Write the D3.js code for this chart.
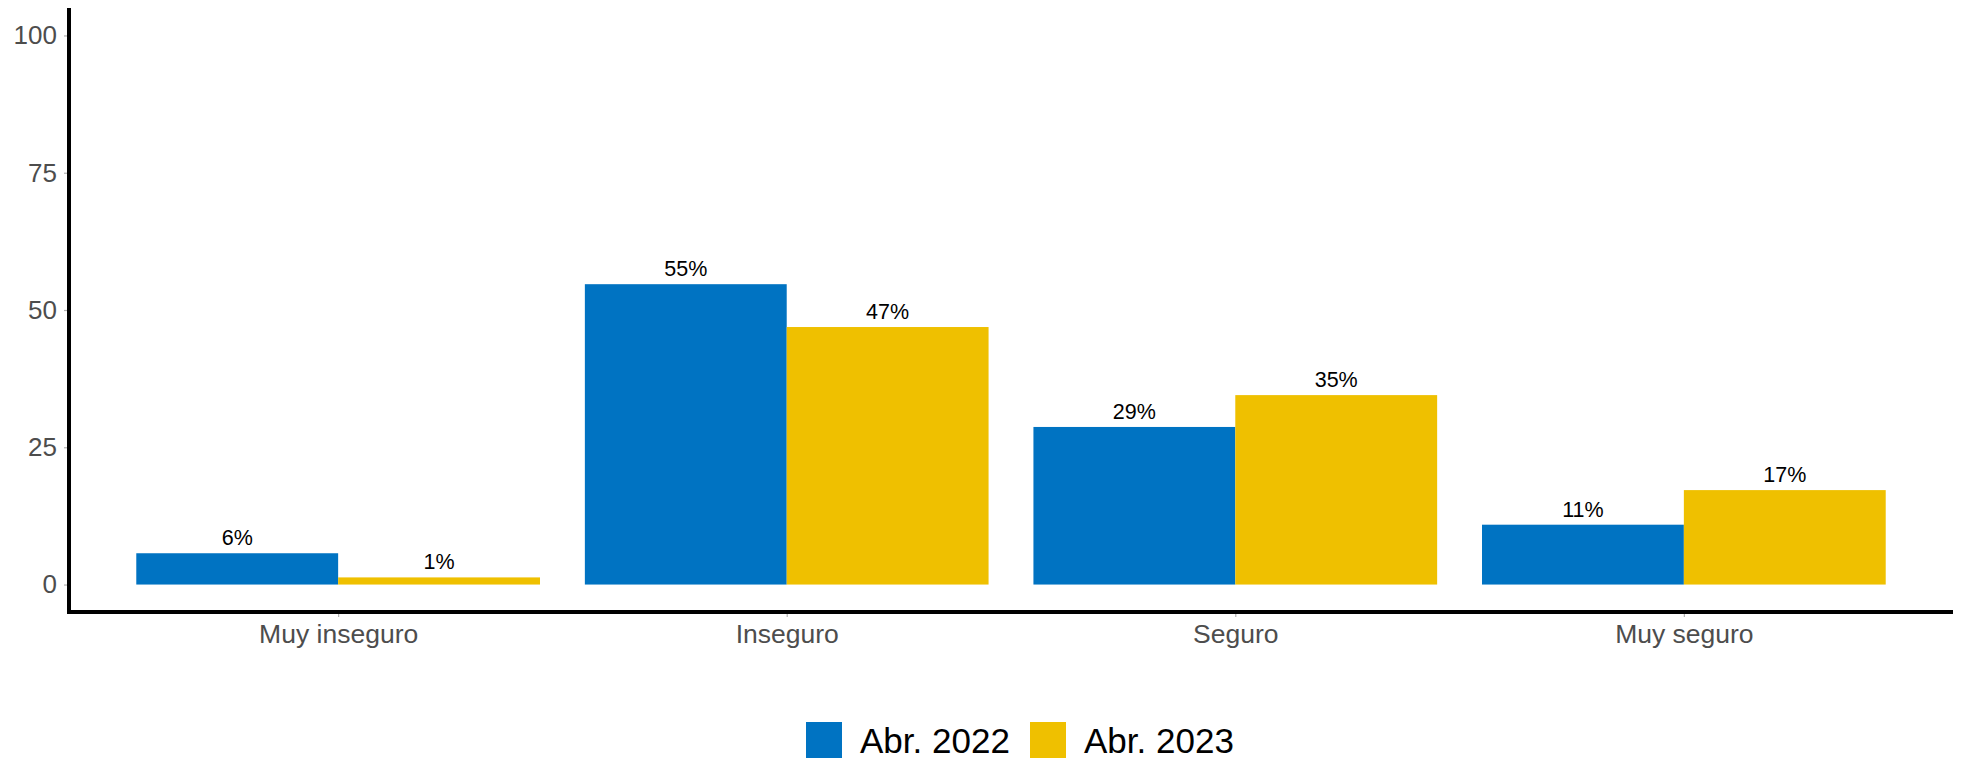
<!DOCTYPE html>
<html><head><meta charset="utf-8">
<script src="https://cdn.jsdelivr.net/npm/d3@7"></script>
<style>html,body{margin:0;padding:0;background:#fff}svg{display:block}</style>
</head><body>
<svg id="chart" width="1962" height="760"></svg>
<script>
const categories = ["Muy inseguro", "Inseguro", "Seguro", "Muy seguro"];
const seriesNames = ["Abr. 2022", "Abr. 2023"];
const values2022 = [5.7, 54.7, 28.7, 10.9];
const values2023 = [1.3, 46.9, 34.5, 17.2];
const labels2022 = ["6%", "55%", "29%", "11%"];
const labels2023 = ["1%", "47%", "35%", "17%"];
const yTicks = [0, 25, 50, 75, 100];
const colors = ["#0073C2", "#EFC000"];

(function () {
const svg = d3.select("#chart");
const mLeft = 69, mRight = 1953, mTop = 8, mBottom = 612;

const xIdx = d3.scaleLinear().domain([1 - 0.6, categories.length + 0.6]).range([mLeft, mRight]);
const y = d3.scaleLinear().domain([-5, 105]).range([mBottom, mTop]);
const barW = xIdx(1.45) - xIdx(1);

const data = [];
categories.forEach((c, i) => {
  data.push({cat: c, i, s: 0, v: values2022[i], lab: labels2022[i]});
  data.push({cat: c, i, s: 1, v: values2023[i], lab: labels2023[i]});
});

const font = "Liberation Sans, Arial, sans-serif";

svg.append("g").selectAll("rect").data(data).join("rect")
  .attr("x", d => xIdx(d.i + 1) - barW + d.s * barW)
  .attr("width", barW)
  .attr("y", d => y(d.v))
  .attr("height", d => y(0) - y(d.v))
  .attr("fill", d => colors[d.s]);

svg.append("g").selectAll("text").data(data).join("text")
  .attr("x", d => xIdx(d.i + 1) - barW / 2 + d.s * barW)
  .attr("y", d => y(d.v) - 8)
  .attr("text-anchor", "middle")
  .attr("font-family", font)
  .attr("font-size", 21.5)
  .attr("fill", "#000")
  .text(d => d.lab);

const yAxis = d3.axisLeft(y).tickValues(yTicks).tickSize(5).tickPadding(7);
const gy = svg.append("g").attr("transform", `translate(${mLeft},0)`).call(yAxis);
gy.select(".domain").remove();
gy.selectAll(".tick line").attr("stroke", "#b0b0b0").attr("stroke-width", 1.2);
gy.selectAll(".tick text").attr("font-family", font).attr("font-size", 26).attr("fill", "#4d4d4d");

const xBand = d3.scalePoint().domain(categories).range([xIdx(1), xIdx(categories.length)]);
const xAxis = d3.axisBottom(xBand).tickSize(5).tickPadding(7);
const gx = svg.append("g").attr("transform", `translate(0,${mBottom})`).call(xAxis);
gx.select(".domain").remove();
gx.selectAll(".tick line").attr("stroke", "#b0b0b0").attr("stroke-width", 1.2);
gx.selectAll(".tick text").attr("font-family", font).attr("font-size", 26.5).attr("fill", "#4d4d4d");

svg.append("line").attr("x1", mLeft).attr("x2", mLeft).attr("y1", mTop).attr("y2", mBottom + 2)
  .attr("stroke", "#000").attr("stroke-width", 4);
svg.append("line").attr("x1", mLeft - 2).attr("x2", mRight).attr("y1", mBottom).attr("y2", mBottom)
  .attr("stroke", "#000").attr("stroke-width", 4);

const lg = svg.append("g").attr("transform", "translate(806,722)");
const legX = [0, 224];
seriesNames.forEach((n, k) => {
  lg.append("rect").attr("x", legX[k]).attr("y", 0).attr("width", 36).attr("height", 36).attr("fill", colors[k]);
  lg.append("text").attr("x", legX[k] + 54).attr("y", 18).attr("dy", "0.36em")
    .attr("font-family", font).attr("font-size", 35).attr("fill", "#000").text(n);
});
})();
</script>
</body></html>
